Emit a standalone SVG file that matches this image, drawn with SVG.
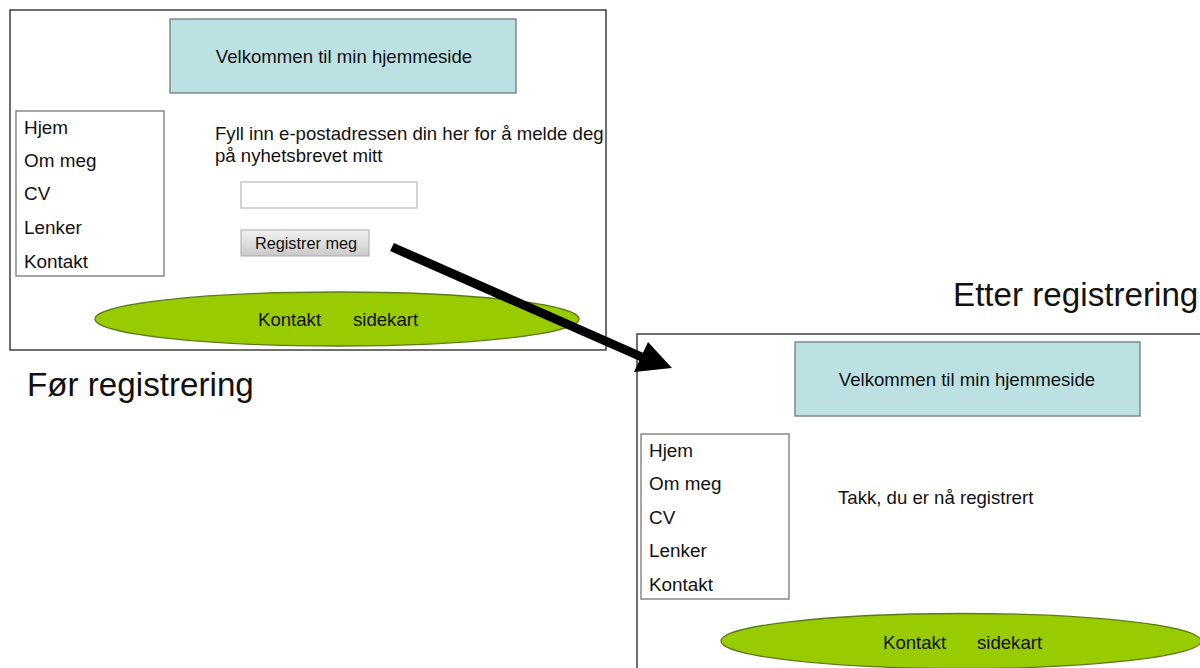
<svg xmlns="http://www.w3.org/2000/svg" width="1200" height="668" viewBox="0 0 1200 668">
<defs>
<linearGradient id="btn" x1="0" y1="0" x2="0" y2="1">
<stop offset="0" stop-color="#f2f2f2"/>
<stop offset="1" stop-color="#c9c9c9"/>
</linearGradient>
</defs>
<style>
text{font-family:"Liberation Sans",Arial,sans-serif;fill:#111}
.frame{fill:#fff;stroke:#222;stroke-width:1.3}
.head{fill:#bce1e3;stroke:#6f7b7c;stroke-width:1.3}
.nav{fill:#fff;stroke:#777;stroke-width:1.3}
.oval{fill:#99cc00;stroke:#5d7a1a;stroke-width:1.3}
.t18{font-size:18.9px}
.t17{font-size:18.6px}
.big{font-size:33.2px}
</style>
<rect width="1200" height="668" fill="#fff"/>
<g id="page-before">
<rect class="frame" x="10" y="10" width="596" height="340"/>
<g id="header-before"><rect class="head" x="170" y="19" width="346" height="74"/><text class="t17" x="344" y="63" text-anchor="middle">Velkommen til min hjemmeside</text></g>
<g id="nav-before"><rect class="nav" x="16" y="111" width="148" height="165"/>
<text class="t18" x="24" y="134">Hjem</text>
<text class="t18" x="24" y="167">Om meg</text>
<text class="t18" x="24" y="200">CV</text>
<text class="t18" x="24" y="234">Lenker</text>
<text class="t18" x="24" y="268">Kontakt</text></g>
<g id="form-text"><text class="t17" x="215" y="140">Fyll inn e-postadressen din her for å melde deg</text><text class="t17" x="215" y="162">på nyhetsbrevet mitt</text></g>
<g id="input"><rect x="241" y="182" width="176" height="26" fill="#fff" stroke="#c4c8cc" stroke-width="1.5"/></g>
<g id="button"><rect x="241" y="230" width="128" height="26" fill="url(#btn)" stroke="#aaa" stroke-width="1"/><text x="306" y="249" font-size="16.3" text-anchor="middle">Registrer meg</text></g>
<g id="footer-before"><ellipse class="oval" cx="337" cy="319" rx="242" ry="27"/><text class="t17" x="258" y="326">Kontakt</text><text class="t17" x="353" y="326">sidekart</text></g>
</g>
<g id="label-before"><text class="big" x="27" y="396">Før registrering</text></g>
<g id="label-after"><text class="big" x="953" y="306">Etter registrering</text></g>
<g id="page-after">
<rect class="frame" x="637" y="334" width="570" height="340"/>
<g id="header-after"><rect class="head" x="795" y="342" width="345" height="74"/><text class="t17" x="967" y="386" text-anchor="middle">Velkommen til min hjemmeside</text></g>
<g id="nav-after"><rect class="nav" x="641" y="434" width="148" height="165"/>
<text class="t18" x="649" y="457">Hjem</text>
<text class="t18" x="649" y="490">Om meg</text>
<text class="t18" x="649" y="524">CV</text>
<text class="t18" x="649" y="557">Lenker</text>
<text class="t18" x="649" y="591">Kontakt</text></g>
<g id="thanks"><text class="t17" x="838" y="504">Takk, du er nå registrert</text></g>
<g id="footer-after"><ellipse class="oval" cx="961" cy="641" rx="240" ry="27.5"/><text class="t17" x="883" y="649">Kontakt</text><text class="t17" x="977" y="649">sidekart</text></g>
</g>
<g id="connectors">
<line x1="392" y1="247" x2="644" y2="358" stroke="#000" stroke-width="9"/>
<polygon points="648,342 634,372 672,368" fill="#000"/>
</g>
</svg>
